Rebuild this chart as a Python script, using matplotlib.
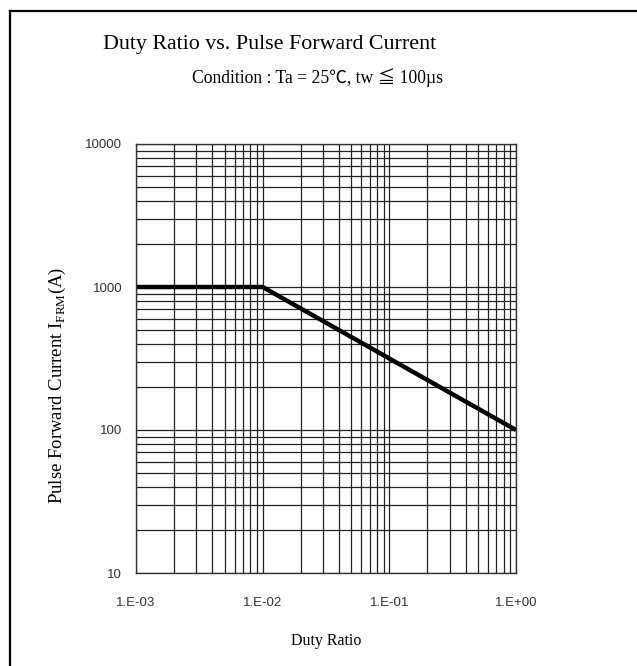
import matplotlib
matplotlib.use('Agg')
import matplotlib.pyplot as plt
from matplotlib.lines import Line2D

# data
duty = [1e-3, 1e-2, 1e0]
current = [1000, 1000, 100]
xticks = [1e-3, 1e-2, 1e-1, 1e0]
xlabels = ['1.E-03', '1.E-02', '1.E-01', '1.E+00']
yticks = [10, 100, 1000, 10000]
ylabels = ['10', '100', '1000', '10000']

plt.rcParams['mathtext.fontset'] = 'custom'
plt.rcParams['mathtext.rm'] = 'Liberation Serif'

W, H = 637, 666
fig = plt.figure(figsize=(W / 100, H / 100), dpi=100)
ax = fig.add_axes([136 / W, 1 - 573 / H, (516 - 136) / W, (573 - 144) / H])

ax.set_xscale('log')
ax.set_yscale('log')
ax.set_xlim(1e-3, 1e0)
ax.set_ylim(10, 10000)

ax.grid(True, which='both', color='#222222', linewidth=0.9)
ax.plot(duty, current, color='black', linewidth=3.2, solid_capstyle='butt')

ax.set_xticks(xticks)
ax.set_xticklabels(xlabels)
ax.set_yticks(yticks)
ax.set_yticklabels(ylabels)
ax.tick_params(which='both', length=0, labelsize=9.5, labelcolor='#333333')
ax.tick_params(axis='x', pad=17)
ax.tick_params(axis='y', pad=10)
for lab in ax.get_xticklabels() + ax.get_yticklabels():
    lab.set_fontfamily('Liberation Sans')
for s in ax.spines.values():
    s.set_color('#333333')
    s.set_linewidth(1.0)
ax.set_axisbelow(True)

serif = 'Liberation Serif'
fig.text(270 / W, 1 - 45 / H, 'Duty Ratio vs. Pulse Forward Current',
         ha='center', va='center', fontsize=15.8, family=serif)
fig.text(317 / W, 1 - 78 / H, 'Condition : Ta = 25\u2103, tw \u2266 100\u00b5s',
         ha='center', va='center', fontsize=12.7,
         family=[serif, 'Noto Sans CJK JP', 'DejaVu Sans'])
fig.text(326 / W, 1 - 641 / H, 'Duty Ratio', ha='center', va='center',
         fontsize=11.5, family=serif)
fig.text(57 / W, 1 - 385 / H, r'Pulse Forward Current I$_{\mathrm{FRM}}$(A)',
         ha='center', va='center', rotation=90, fontsize=13.5, family=serif)

# border (top and left edges visible)
fig.add_artist(Line2D([10 / W, 1.0], [1 - 11 / H, 1 - 11 / H],
                      transform=fig.transFigure, color='black', linewidth=1.6))
fig.add_artist(Line2D([10 / W, 10 / W], [0.0, 1 - 11 / H],
                      transform=fig.transFigure, color='black', linewidth=1.6))

fig.savefig('out.png', dpi=100)
